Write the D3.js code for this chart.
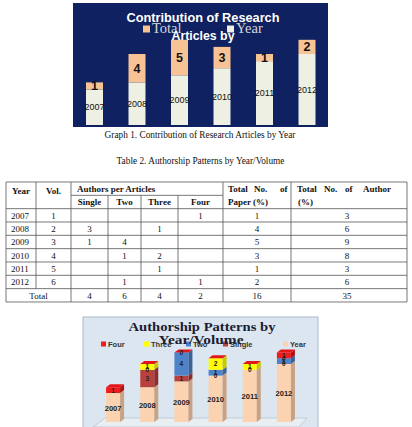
<!DOCTYPE html>
<html>
<head>
<meta charset="utf-8">
<script src="https://d3js.org/d3.v7.min.js"></script>
<style>
  body { margin: 0; background: #fff; }
  svg text { font-family: "Liberation Serif", serif; }
</style>
</head>
<body>
<svg id="page" width="412" height="427"></svg>
<script>
// ---- data ----
const years = [2007, 2008, 2009, 2010, 2011, 2012];
const totalPapers = [1, 4, 5, 3, 1, 2];

// table 2
const vols = [1, 2, 3, 4, 5, 6];
const tSingle = [null, 3, 1, null, null, null];
const tTwo = [null, null, 4, 1, null, 1];
const tThree = [null, 1, null, 2, 1, null];
const tFour = [1, null, null, null, null, 1];
const tPaper = [1, 4, 5, 3, 1, 2];
const tAuthor = [3, 6, 9, 8, 3, 6];
const tTotals = [4, 6, 4, 2, 16, 35];

// graph 2 (as labelled in the chart)
const gSingle = [null, 3, 1, 0, null, 0];
const gTwo = [null, 0, 4, 1, 0, 1];
const gThree = [null, 1, null, 2, 1, 0];
const gFour = [1, null, 0, null, null, 1];

const svg = d3.select("#page");

// ---------- Graph 1 ----------
const g1 = svg.append("g");
g1.append("rect").attr("x", 73).attr("y", 3).attr("width", 255).attr("height", 124)
  .attr("fill", "#0f2160");

const x1 = d3.scaleBand().domain(years).range([73.25, 328.25]).paddingInner(0.6).paddingOuter(0.3);
const y1 = d3.scaleLinear().domain([2002, 2016]).range([125, 25.6]);

years.forEach((yr, i) => {
  const bx = x1(yr), bw = x1.bandwidth();
  g1.append("rect").attr("x", bx).attr("y", y1(yr)).attr("width", bw)
    .attr("height", y1(2002) - y1(yr)).attr("fill", "#eef0e3");
  g1.append("rect").attr("x", bx).attr("y", y1(yr + totalPapers[i])).attr("width", bw)
    .attr("height", y1(yr) - y1(yr + totalPapers[i])).attr("fill", "#f8c394");
  g1.append("text").attr("x", bx + bw / 2).attr("y", (y1(yr) + y1(2002)) / 2 + 3.2)
    .attr("text-anchor", "middle").style("font-family", "Liberation Sans, sans-serif")
    .style("font-size", "9px").attr("fill", "#111").text(yr);
  g1.append("text").attr("x", bx + bw / 2).attr("y", (y1(yr) + y1(yr + totalPapers[i])) / 2 + 4.5)
    .attr("text-anchor", "middle").style("font-family", "Liberation Sans, sans-serif")
    .style("font-size", "12.5px").style("font-weight", "bold").attr("fill", "#111")
    .text(totalPapers[i]);
});

// legend (drawn under the title)
const leg1 = [{ k: "Total", c: "#f8c394", x: 143 }, { k: "Year", c: "#eef0e3", x: 227 }];
leg1.forEach(d => {
  g1.append("rect").attr("x", d.x).attr("y", 25.5).attr("width", 7).attr("height", 7).attr("fill", d.c);
  g1.append("text").attr("x", d.x + 9).attr("y", 33).style("font-size", "14.5px")
    .attr("fill", "#d6d8dc").text(d.k);
});

g1.append("text").attr("x", 203).attr("y", 21.5).attr("text-anchor", "middle")
  .style("font-family", "Liberation Sans, sans-serif").style("font-size", "12.5px")
  .style("font-weight", "bold").attr("fill", "#fff")
  .attr("textLength", 153).attr("lengthAdjust", "spacingAndGlyphs")
  .text("Contribution of Research");
g1.append("text").attr("x", 203).attr("y", 39.5).attr("text-anchor", "middle")
  .style("font-family", "Liberation Sans, sans-serif").style("font-size", "12.5px")
  .style("font-weight", "bold").attr("fill", "#fff")
  .attr("textLength", 63).attr("lengthAdjust", "spacingAndGlyphs")
  .text("Articles by");

// ---------- captions ----------
svg.append("text").attr("x", 200).attr("y", 138).attr("text-anchor", "middle")
  .style("font-size", "9.3px").attr("fill", "#111")
  .text("Graph 1. Contribution of Research Articles by Year");
svg.append("text").attr("x", 200.5).attr("y", 164).attr("text-anchor", "middle")
  .style("font-size", "9.3px").attr("fill", "#111")
  .text("Table 2. Authorship Patterns by Year/Volume");

// ---------- Table 2 ----------
const tb = svg.append("g");
const cx = [6, 36, 71, 108, 141, 178, 223, 291, 407];
const ry = d3.range(10).map(i => 182 + i * 13.33);
const line = (xa, ya, xb, yb) => tb.append("line").attr("x1", xa).attr("y1", ya)
  .attr("x2", xb).attr("y2", yb).attr("stroke", "#555").attr("stroke-width", 0.8);

ry.forEach((y, i) => {
  if (i === 1) line(cx[2], y, cx[6], y);
  else line(cx[0], y, cx[8], y);
});
cx.forEach((x, j) => {
  if (j === 1) line(x, ry[0], x, ry[8]);
  else if (j >= 3 && j <= 5) line(x, ry[1], x, ry[9]);
  else line(x, ry[0], x, ry[9]);
});

const txt = (x, y, s, anchor, bold) => tb.append("text").attr("x", x).attr("y", y)
  .attr("text-anchor", anchor || "middle").style("font-size", "9px")
  .style("font-weight", bold ? "bold" : "normal").attr("fill", "#111").text(s);

txt(21, 194, "Year", "middle", true);
txt(53.5, 194, "Vol.", "middle", true);
txt(77, 191.5, "Authors per Articles", "start", true);
["Single", "Two", "Three", "Four"].forEach((s, j) => txt((cx[2 + j] + cx[3 + j]) / 2, 205, s, "middle", true));
// justified header words
[["Total", 228], ["No.", 254], ["of", 280]].forEach(w => txt(w[1], 191.5, w[0], "start", true));
txt(228, 205, "Paper (%)", "start", true);
[["Total", 297], ["No.", 324], ["of", 345]].forEach(w => txt(w[1], 191.5, w[0], "start", true));
txt(391, 191.5, "Author", "end", true);
txt(298, 205, "(%)", "start", true);

const cols = [tSingle, tTwo, tThree, tFour, tPaper];
years.forEach((yr, i) => {
  const by = (ry[2 + i] + ry[3 + i]) / 2 + 3.2;
  txt(11, by, yr, "start");
  txt((cx[1] + cx[2]) / 2, by, vols[i]);
  cols.forEach((arr, j) => {
    if (arr[i] != null) txt((cx[2 + j] + cx[3 + j]) / 2, by, arr[i]);
  });
  txt(347, by, tAuthor[i]);
});
const tyb = (ry[8] + ry[9]) / 2 + 3.2;
txt(38.5, tyb, "Total");
tTotals.forEach((v, j) => txt(j < 5 ? (cx[2 + j] + cx[3 + j]) / 2 : 347, tyb, v));

// ---------- Graph 2 (3-D stacked columns) ----------
const g2 = svg.append("g");
g2.append("rect").attr("x", 83).attr("y", 317).attr("width", 235).attr("height", 115)
  .attr("fill", "#dbe6f0").attr("stroke", "#a9bacb").attr("stroke-width", 1);

g2.append("polygon").attr("points", "93,427 105,418 307,418 299,427")
  .attr("fill", "#e9eef3").attr("stroke", "#b5bfca").attr("stroke-width", 0.7);

const x2 = d3.scaleBand().domain(years).range([96, 301]).paddingInner(0.59).paddingOuter(0.295);
const y2 = d3.scaleLinear().domain([2002, 2016]).range([422, 340.8]);
const dx = 4, dy = -3;

const series = [
  { k: "Year", vals: years.map(() => null), front: "#fbd3b1", side: "#c9a283" },
  { k: "Single", vals: gSingle, front: "#b9413d", side: "#8a2e2b" },
  { k: "Two", vals: gTwo, front: "#4f83c9", side: "#3a6299" },
  { k: "Three", vals: gThree, front: "#ffff00", side: "#c8c800" },
  { k: "Four", vals: gFour, front: "#f01c1c", side: "#b01212" }
];
const topFace = "#e3161a";

years.forEach((yr, i) => {
  const bx = x2(yr), bw = x2.bandwidth();
  let base = 2002;
  const labels = [];
  series.forEach((s, si) => {
    const v = si === 0 ? yr - 2002 : s.vals[i];
    if (v == null) return;
    const v0 = base, v1 = base + v;
    const yt = y2(v1), yb = y2(v0);
    if (v > 0) {
      g2.append("rect").attr("x", bx).attr("y", yt).attr("width", bw).attr("height", yb - yt)
        .attr("fill", s.front);
      g2.append("polygon").attr("points",
        [[bx + bw, yt], [bx + bw + dx, yt + dy], [bx + bw + dx, yb + dy], [bx + bw, yb]].join(" "))
        .attr("fill", s.side);
    }
    labels.push({ y: (yt + yb) / 2, t: si === 0 ? yr : v, big: si === 0 });
    base = v1;
  });
  const ytop = y2(base);
  g2.append("polygon").attr("points",
    [[bx, ytop], [bx + dx, ytop + dy], [bx + bw + dx, ytop + dy], [bx + bw, ytop]].join(" "))
    .attr("fill", topFace);
  labels.forEach(l => {
    g2.append("text").attr("x", bx + bw / 2).attr("y", l.y + (l.big ? 3 : 2.4))
      .attr("text-anchor", "middle").style("font-family", "Liberation Sans, sans-serif")
      .style("font-size", l.big ? "7.5px" : "6.5px").style("font-weight", "bold")
      .attr("fill", "#222").text(l.t);
  });
});

// legend
const leg2 = [
  { k: "Four", c: "#f01c1c", x: 101 }, { k: "Three", c: "#ffff00", x: 144 },
  { k: "Two", c: "#4f83c9", x: 186 }, { k: "Single", c: "#b9413d", x: 223 },
  { k: "Year", c: "#fbd3b1", x: 283 }
];
leg2.forEach(d => {
  g2.append("rect").attr("x", d.x).attr("y", 341.5).attr("width", 5).attr("height", 5).attr("fill", d.c);
  g2.append("text").attr("x", d.x + 7).attr("y", 347).style("font-family", "Liberation Sans, sans-serif")
    .style("font-size", "7.5px").style("font-weight", "bold").attr("fill", "#333").text(d.k);
});

g2.append("text").attr("x", 202).attr("y", 330.5).attr("text-anchor", "middle")
  .style("font-size", "13px").style("font-weight", "bold").attr("fill", "#1c1c30")
  .attr("textLength", 147).attr("lengthAdjust", "spacingAndGlyphs")
  .text("Authorship Patterns by");
g2.append("text").attr("x", 201).attr("y", 343.5).attr("text-anchor", "middle")
  .style("font-size", "13px").style("font-weight", "bold").attr("fill", "#1c1c30")
  .attr("textLength", 85).attr("lengthAdjust", "spacingAndGlyphs")
  .text("Year/Volume");
</script>
</body>
</html>
